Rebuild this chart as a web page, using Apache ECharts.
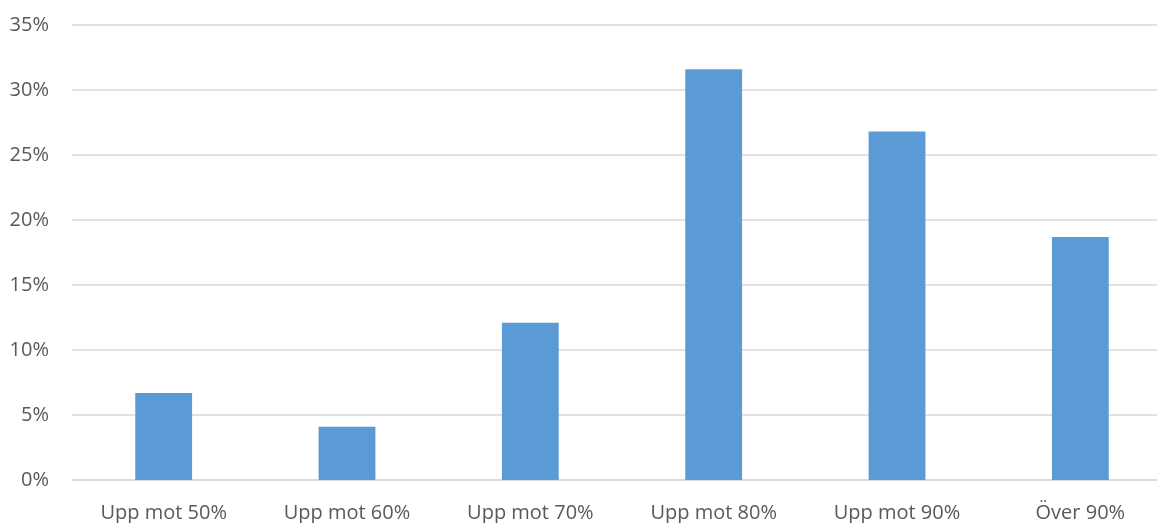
<!DOCTYPE html>
<html>
<head>
<meta charset="utf-8">
<script src="https://cdn.jsdelivr.net/npm/echarts@6/dist/echarts.min.js"></script>
<style>
  html, body { margin: 0; padding: 0; background: #ffffff; overflow: hidden; }
  /* the plot runs a little past the right edge of the window */
  #chart { width: 1172px; height: 523px; }
</style>
</head>
<body>
<div id="chart"></div>
<script>
// Share of respondents per band
const categories = ['Upp mot 50%', 'Upp mot 60%', 'Upp mot 70%', 'Upp mot 80%', 'Upp mot 90%', 'Över 90%'];
const shares = [6.7, 4.1, 12.1, 31.6, 26.8, 18.7];
const yTicks = { min: 0, max: 35, step: 5 };

const textColor = '#595959';
const fontFamily = '"Open Sans", "Noto Sans", sans-serif';

const chart = echarts.init(document.getElementById('chart'), null, { renderer: 'canvas' });
chart.setOption({
  animation: false,
  backgroundColor: '#ffffff',
  grid: { left: 72, right: 0, top: 25, bottom: 43, containLabel: false },
  xAxis: {
    type: 'category',
    data: categories,
    axisLine: { show: true, lineStyle: { color: '#d9d9d9', width: 1.5 } },
    axisTick: { show: false },
    axisLabel: { color: textColor, fontSize: 20, fontFamily: fontFamily, margin: 23 }
  },
  yAxis: {
    type: 'value',
    min: yTicks.min,
    max: yTicks.max,
    interval: yTicks.step,
    axisLine: { show: false },
    axisTick: { show: false },
    splitLine: { lineStyle: { color: '#d9d9d9', width: 1.5 } },
    axisLabel: { color: textColor, fontSize: 20, fontFamily: fontFamily, margin: 23, formatter: '{value}%' }
  },
  series: [{
    type: 'bar',
    data: shares,
    barWidth: '31%',
    itemStyle: { color: '#5b9bd5' }
  }]
});
</script>
</body>
</html>
